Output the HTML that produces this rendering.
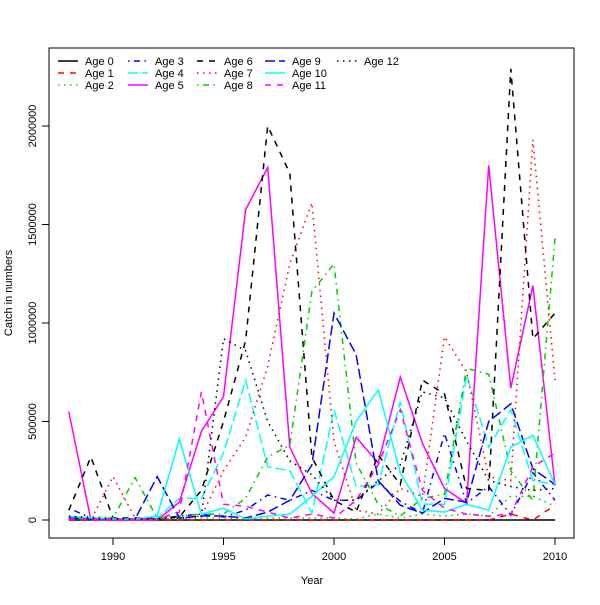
<!DOCTYPE html>
<html><head><meta charset="utf-8"><style>
body{margin:0;background:#fff}
svg text{font-family:"Liberation Sans",sans-serif;font-size:11px;fill:#000}
</style></head><body>
<svg id="chart" width="600" height="600" xmlns="http://www.w3.org/2000/svg">
<rect width="600" height="600" fill="#fff"/>
<g id="plot"></g>
<rect x="49" y="48" width="525" height="490" fill="none" stroke="#000"/>
<text x="312" y="584" text-anchor="middle">Year</text>
<text transform="translate(12,293) rotate(-90)" text-anchor="middle">Catch in numbers</text>
<g id="axes"></g>
<g id="legend"></g>
</svg>
<script>
const years=[1988,1989,1990,1991,1992,1993,1994,1995,1996,1997,1998,1999,2000,2001,2002,2003,2004,2005,2006,2007,2008,2009,2010];
const xTicks=[1990,1995,2000,2005,2010];
const yTicks=[0,500000,1000000,1500000,2000000];
const seriesNames=["Age 0","Age 1","Age 2","Age 3","Age 4","Age 5","Age 6","Age 7","Age 8","Age 9","Age 10","Age 11","Age 12"];
// values in thousands
const age0=[0,0,0,0,0,0,0,0,0,0,0,0,0,0,0,0,0,0,0,0,0,0,0];
const age1=[2,0,0,0,0,0,0,0,0,0,0,0,0,0,0,0,0,0,0,0,30,0,75];
const age2=[10,20,10,5,5,5,10,10,5,10,10,10,10,5,30,10,30,20,30,20,120,120,70];
const age3=[60,10,5,5,5,20,30,15,50,127,100,150,100,100,190,95,35,440,85,170,25,240,100];
const age4=[10,5,5,5,10,110,110,340,710,270,250,35,560,170,180,600,80,80,735,370,560,200,180];
const age5=[550,0,0,0,0,90,450,625,1575,1790,370,135,35,420,290,725,390,160,85,1800,670,1190,175];
const age6=[50,320,10,10,10,15,150,500,910,2000,1760,320,100,40,330,180,710,640,160,150,2290,920,1050];
const age7=[10,0,220,10,5,5,20,250,420,780,1300,1610,400,50,30,160,120,930,750,220,200,1930,710];
const age8=[10,10,10,215,10,20,30,30,110,320,380,1160,1300,290,80,20,110,130,770,740,250,100,1430];
const age9=[10,5,5,5,220,10,20,20,10,40,100,280,1050,840,200,75,35,110,90,500,590,260,180];
const age10=[20,10,5,5,20,410,30,60,5,20,30,120,220,500,660,240,50,40,80,50,370,430,180];
const age11=[5,5,5,5,5,40,650,80,70,40,10,30,10,100,280,560,150,60,30,20,30,270,340];
const age12=[20,10,5,5,5,10,20,920,860,500,300,230,100,100,200,280,650,620,400,200,170,150,160];
const allSeries=[age0,age1,age2,age3,age4,age5,age6,age7,age8,age9,age10,age11,age12];
const colors=["#000","#ff0000","#00cd00","#0000ff","#00ffff","#ff00ff"];
const dashes=["none","6 6","1.5 4.5","1.5 4.5 6 4.5","10 4"];
const NS="http://www.w3.org/2000/svg";
function xS(v){return 68.8+(v-1988)*22.1;}
function yS(v){return 520-v/500000*98.5;}
const plot=document.getElementById('plot');
allSeries.forEach((s,i)=>{
  const p=document.createElementNS(NS,'polyline');
  
  
  p.setAttribute('points',s.map((v,j)=>xS(years[j])+','+yS(v*1000)).join(' '));
  p.setAttribute('fill','none');
  p.setAttribute('stroke',colors[i%6]);
  p.setAttribute('stroke-width','1.5');
  p.setAttribute('stroke-dasharray',dashes[i%5]);
  plot.appendChild(p);
});
const axes=document.getElementById('axes');
xTicks.forEach(t=>{
  const l=document.createElementNS(NS,'line');
  
  
  l.setAttribute('x1',xS(t));l.setAttribute('x2',xS(t));l.setAttribute('y1',538);l.setAttribute('y2',545);l.setAttribute('stroke','#000');
  axes.appendChild(l);
  const tx=document.createElementNS(NS,'text');
  
  
  tx.setAttribute('x',xS(t));tx.setAttribute('y',560);tx.setAttribute('text-anchor','middle');tx.textContent=t;
  axes.appendChild(tx);
});
yTicks.forEach(t=>{
  const l=document.createElementNS(NS,'line');
  
  
  l.setAttribute('x1',42);l.setAttribute('x2',49);l.setAttribute('y1',yS(t));l.setAttribute('y2',yS(t));l.setAttribute('stroke','#000');
  axes.appendChild(l);
  const tx=document.createElementNS(NS,'text');
  
  
  tx.setAttribute('transform','translate(36,'+yS(t)+') rotate(-90)');tx.setAttribute('text-anchor','middle');tx.textContent=t;
  axes.appendChild(tx);
});
const legend=document.getElementById('legend');
const colX=[58,128,197,265,337];
seriesNames.forEach((n,i)=>{
  const c=Math.floor(i/3),r=i%3;
  const x=colX[c],y=61+r*12;
  const l=document.createElementNS(NS,'line');
  
  
  l.setAttribute('x1',x);l.setAttribute('x2',x+20);l.setAttribute('y1',y);l.setAttribute('y2',y);
  l.setAttribute('stroke',colors[i%6]);l.setAttribute('stroke-width','1.5');l.setAttribute('stroke-dasharray',dashes[i%5]);
  legend.appendChild(l);
  const tx=document.createElementNS(NS,'text');
  
  
  tx.setAttribute('x',x+27);tx.setAttribute('y',y+4);tx.textContent=n;
  legend.appendChild(tx);
});
</script>
</body></html>
